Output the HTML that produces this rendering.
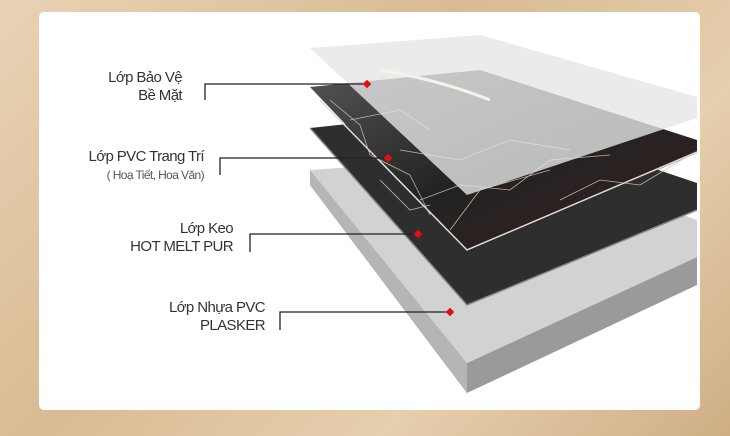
<!DOCTYPE html>
<html><head><meta charset="utf-8"><style>
html,body{margin:0;padding:0}
body{width:730px;height:436px;overflow:hidden;background:linear-gradient(135deg,#e8d3b5 0%,#d9bb93 40%,#e6cfae 70%,#cfae85 100%);position:relative;font-family:"Liberation Sans","Noto Sans CJK SC",sans-serif}
.card{position:absolute;left:39px;top:12px;width:661px;height:398px;background:#fff;border-radius:5px}
.t{position:absolute;text-align:right;color:#333;font-size:15px;line-height:18px;letter-spacing:-0.6px}
.s{font-size:12px;color:#555}
</style></head><body>
<div class="card"></div>
<svg width="730" height="436" style="position:absolute;left:0;top:0">
<defs>
<linearGradient id="m" x1="0" y1="0" x2="1" y2="1"><stop offset="0" stop-color="#555"/><stop offset="0.5" stop-color="#222"/><stop offset="1" stop-color="#3a2020"/></linearGradient>
</defs>
<polygon points="310,170 310,185 467,393 697,285 697,257 467,363" fill="#9a9a9a"/>
<polygon points="310,185 467,393 467,363 310,170" fill="#b5b5b5"/>
<polygon points="310,170 467,363 697,257 697,220 520,155" fill="#d2d2d2"/>
<polygon points="310,128 467,305 697,210 697,183 480,110" fill="#2e2e2e"/>
<polyline points="310,128 467,305 697,210" fill="none" stroke="#888" stroke-width="1.5"/>
<polygon points="310,87 467,252 697,153 697,140 480,70" fill="url(#m)"/>
<polyline points="320,100 467,250 697,152" fill="none" stroke="#ddd" stroke-width="1.5"/>
<g stroke="#d8cbb5" stroke-width="0.8" fill="none" opacity="0.85">
<path d="M330,100 l30,25 l10,30 l40,20 l20,40"/><path d="M400,150 l60,10 l50,-20 l60,10"/><path d="M420,200 l40,-15 l50,5 l40,-30 l60,-5"/><path d="M350,120 l50,-10 l30,20"/><path d="M450,230 l30,-40 l70,-20"/><path d="M560,200 l40,-20 l40,5 l50,-30"/><path d="M380,180 l30,30 l20,-5"/>
</g>
<polygon points="310,48 480,35 697,97 697,118 467,195" fill="#e6e6e6" opacity="0.8"/>
<path d="M380,70 q60,10 110,30" stroke="#f5f2ea" stroke-width="3" fill="none"/>
<g stroke="#222" stroke-width="1.3" fill="none">
<polyline points="205,100 205,84 367,84"/>
<polyline points="220,175 220,158 388,158"/>
<polyline points="250,252 250,234 418,234"/>
<polyline points="280,330 280,312 450,312"/>
</g>
<g fill="#e01010">
<rect x="364" y="81" width="6" height="6" transform="rotate(45 367 84)"/>
<rect x="385" y="155" width="6" height="6" transform="rotate(45 388 158)"/>
<rect x="415" y="231" width="6" height="6" transform="rotate(45 418 234)"/>
<rect x="447" y="309" width="6" height="6" transform="rotate(45 450 312)"/>
</g>
</svg>
<div class="t" style="right:548px;top:69px">Lớp Bảo Vệ<br>Bề Mặt</div>
<div class="t" style="right:526px;top:148px">Lớp PVC Trang Trí<br><span class="s">( Hoạ Tiết, Hoa Văn)</span></div>
<div class="t" style="right:497px;top:220px">Lớp Keo<br>HOT MELT PUR</div>
<div class="t" style="right:465px;top:299px">Lớp Nhựa PVC<br>PLASKER</div>
</body></html>
